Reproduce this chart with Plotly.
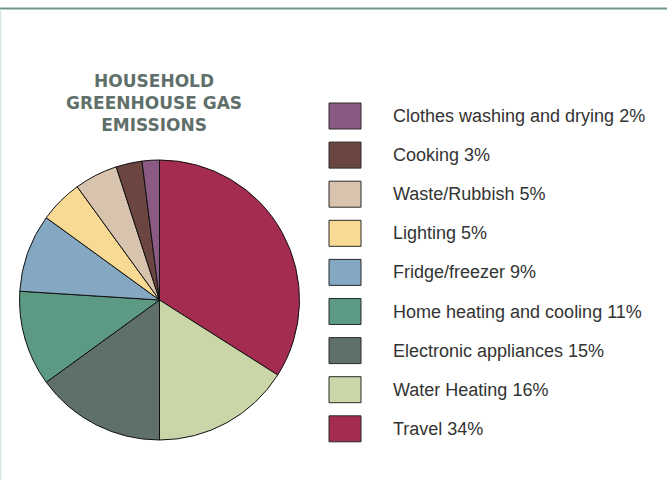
import plotly.graph_objects as go

# Data
categories = ["Travel", "Water Heating", "Electronic appliances", "Home heating and cooling",
              "Fridge/freezer", "Lighting", "Waste/Rubbish", "Cooking", "Clothes washing and drying"]
values = [34, 16, 15, 11, 9, 5, 5, 3, 2]
colors = ["#A42C50", "#CAD5A8", "#5F706B", "#5C9A84", "#84A7C2", "#F9DA94", "#D8C3AE", "#6B4540", "#8A5A85"]

W, H = 667, 480

fig = go.Figure()
fig.add_trace(go.Pie(
    labels=categories, values=values, sort=False, direction="clockwise", rotation=0,
    marker=dict(colors=colors, line=dict(color="#111111", width=1)),
    textinfo="none", hoverinfo="label+percent", showlegend=False,
    domain=dict(x=[19.5 / W, 299.5 / W], y=[1 - 440 / H, 1 - 160 / H]),
))

shapes = []
annotations = []
# Custom legend (reverse order: smallest first)
row0 = 116
step = 39.1
for i, idx in enumerate(reversed(range(len(categories)))):
    cy = row0 + i * step
    shapes.append(dict(type="rect", xref="paper", yref="paper",
                       x0=329 / W, x1=361 / W, y0=1 - (cy + 13) / H, y1=1 - (cy - 13) / H,
                       fillcolor=colors[idx], line=dict(color="#2a2a2a", width=1)))
    annotations.append(dict(xref="paper", yref="paper", x=391 / W, y=1 - cy / H,
                            xanchor="left", yanchor="middle", showarrow=False,
                            text=f"{categories[idx]} {values[idx]}%",
                            font=dict(family="Liberation Sans, Arial", size=18, color="#333333")))

# Frame lines
shapes.append(dict(type="line", xref="paper", yref="paper", x0=0, x1=1, y0=1 - 7.5 / H, y1=1 - 7.5 / H,
                   line=dict(color="#B9D2C6", width=1)))
shapes.append(dict(type="line", xref="paper", yref="paper", x0=0, x1=1, y0=1 - 8.7 / H, y1=1 - 8.7 / H,
                   line=dict(color="#6E9784", width=1.5)))
shapes.append(dict(type="line", xref="paper", yref="paper", x0=0.5 / W, x1=0.5 / W, y0=0, y1=1 - 9 / H,
                   line=dict(color="#D6E6E0", width=1.5)))

annotations.append(dict(xref="paper", yref="paper", x=154 / W, y=1 - 103 / H,
                        xanchor="center", yanchor="middle", showarrow=False,
                        text="HOUSEHOLD<br>GREENHOUSE GAS<br>EMISSIONS",
                        font=dict(family="DejaVu Sans", size=17, color="#5F706B", weight="bold")))

fig.update_layout(width=W, height=H, margin=dict(l=0, r=0, t=0, b=0),
                  paper_bgcolor="white", plot_bgcolor="white",
                  shapes=shapes, annotations=annotations, showlegend=False)

fig.write_html("out.html")
